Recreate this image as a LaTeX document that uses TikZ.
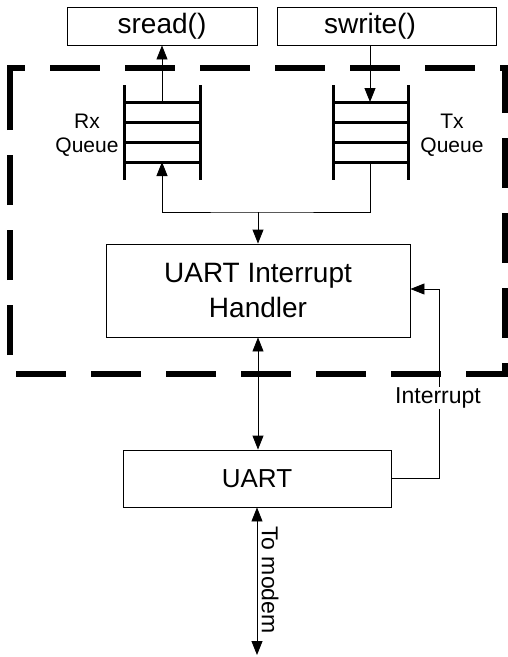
\documentclass[tikz,border=0pt]{standalone}
\usepackage{fontspec}
\setmainfont{Liberation Sans}
\usetikzlibrary{arrows.meta}
\tikzset{
  box/.style={draw, line width=0.9pt, inner sep=0pt, align=center},
  arr/.style={line width=0.9pt, -{Triangle[length=14pt,width=11pt]}},
  darr/.style={line width=0.9pt, {Triangle[length=14pt,width=11pt]}-{Triangle[length=14pt,width=11pt]}},
  plain/.style={line width=0.9pt},
  qline/.style={line width=3pt},
  bigtext/.style={font=\fontsize{28}{35}\selectfont},
  smalltext/.style={font=\fontsize{21}{24}\selectfont, align=center},
  lbltext/.style={font=\fontsize{23}{26}\selectfont},
}
\begin{document}
\begin{tikzpicture}[x=1pt,y=-1pt]
\useasboundingbox (0,0) rectangle (507,657);
% outer dashed boundary
\draw[line width=5.5pt, dash pattern=on 50pt off 25pt]
  (10,103) -- (10,68) -- (505,68) -- (505,374) -- (10,374) -- cycle;
% boxes
\node[box, bigtext, minimum width=190, minimum height=38] (sread) at (162,26) {sread()};
\node[box, bigtext, minimum width=219, minimum height=38] (swrite) at (386.5,26) {swrite()\hspace{33pt}};
\node[box, bigtext, minimum width=304, minimum height=93] (handler) at (258,290.5) {UART Interrupt\\Handler};
\node[box, font=\fontsize{26}{30}\selectfont, minimum width=268, minimum height=57] (uart) at (257,478.5) {UART};
% Rx queue
\draw[qline] (124,85) -- (124,180) (200,85) -- (200,180);
\foreach \y in {102,122,142,162} \draw[qline] (124,\y) -- (200,\y);
% Tx queue
\draw[qline] (333,85) -- (333,180) (408,85) -- (408,180);
\foreach \y in {102,122,142,162} \draw[qline] (333,\y) -- (408,\y);
% queue labels
\node[smalltext] (rxl) at (87,135) {Rx\\Queue};
\node[smalltext] (txl) at (452,135) {Tx\\Queue};
% coordinates
\coordinate (rxtop) at (162,102);
\coordinate (rxbot) at (162,162);
\coordinate (txtop) at (370,102);
\coordinate (txbot) at (370,162);
\coordinate (join) at (258,212);
\coordinate (intr) at (439,289);
\coordinate (modem) at (257,655);
% connectors
\draw[arr] (rxtop) -- (rxtop |- sread.south);
\draw[arr] (txtop |- swrite.south) -- (txtop);
\draw[arr] (txbot) |- (join) -| (rxbot);
\draw[arr] (join) -- (handler.north);
\draw[darr] (handler.south) -- (handler.south |- uart.north);
\draw[arr] (uart.east) -| (intr) -- (handler.east |- intr);
\node[lbltext, fill=white, inner sep=1pt] (intlbl) at (438,398) {Interrupt};
\draw[darr] (uart.south) -- (modem);
\node[lbltext, rotate=-90, inner sep=0pt] (modlbl) at (270,580) {To modem};
\end{tikzpicture}
\end{document}
